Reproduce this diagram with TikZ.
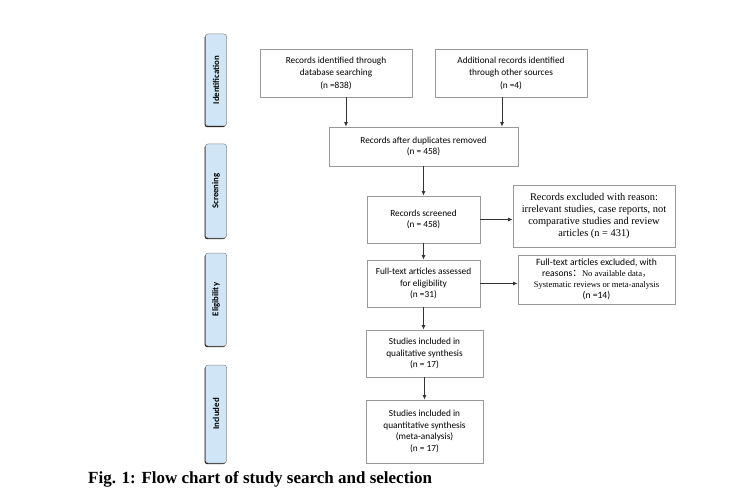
\documentclass[tikz,border=0pt]{standalone}
\usepackage{fontspec}
\setmainfont{Carlito}
\newfontfamily\tms{Liberation Serif}
\newfontfamily\cjk{Noto Sans CJK SC}
\definecolor{sidefill}{RGB}{208,229,245}
\usetikzlibrary{arrows.meta,shadows}
\begin{document}
\begin{tikzpicture}[x=1pt,y=-1pt,
  box/.style={draw=black!40, line width=0.6pt, fill=white, align=center,
    inner sep=2pt, font=\fontsize{9.3}{11.8}\selectfont,
    drop shadow={shadow xshift=1.1pt, shadow yshift=-1.1pt, fill=black!85, opacity=1}},
  tbox/.style={box, font=\tms\fontsize{10.4}{11.7}\selectfont},
  side/.style={draw=black!45, line width=0.5pt, fill=sidefill, rounded corners=2.5pt,
    rotate=90, minimum height=21pt, inner sep=1pt, font=\bfseries\fontsize{8.8}{10}\selectfont,
    drop shadow={shadow xshift=-0.9pt, shadow yshift=-1.1pt, fill=black!90, opacity=1}},
  arr/.style={draw=black!80, line width=1pt, -{Latex[length=4.5pt,width=4pt]}}]
\useasboundingbox (0,0) rectangle (750,492);

% phase labels
\node[side, minimum width=92pt] (sid) at (216,80) {Identification};
\node[side, minimum width=94pt] (ssc) at (216,191) {Screening};
\node[side, minimum width=93pt] (sel) at (216,299.5) {Eligibility};
\node[side, minimum width=98pt] (sin) at (216,414) {Included};

% boxes
\node[box, minimum width=152pt, minimum height=48pt, font=\fontsize{9.3}{12.5}\selectfont] (A) at (336,73)
  {Records identified through\\database searching\\(n =838)};
\node[box, minimum width=152pt, minimum height=48pt, font=\fontsize{9.3}{12.5}\selectfont] (B) at (511,73)
  {Additional records identified\\through other sources\\(n =4)};
\node[box, minimum width=189pt, minimum height=39pt] (C) at (423.5,146.5)
  {Records after duplicates removed\\(n = 458)};
\node[box, minimum width=113pt, minimum height=47pt] (D) at (423.5,219.5)
  {Records screened\\(n = 458)};
\node[tbox, minimum width=162pt, minimum height=62pt] (E) at (594,216)
  {Records excluded with reason:\\irrelevant studies, case reports, not\\comparative studies and review\\articles (n = 431)};
\node[box, minimum width=113pt, minimum height=47pt] (F) at (423.5,283.5)
  {Full-text articles assessed\\for eligibility\\(n =31)};
\node[box, minimum width=157pt, minimum height=49pt, font=\fontsize{9.6}{11}\selectfont] (G) at (596.5,279.5)
  {Full-text articles excluded, with\\reasons{\cjk：}{\tms\fontsize{8.6}{11}\selectfont No available data{\cjk，}}\\{\tms\fontsize{8.6}{11}\selectfont Systematic reviews or meta-analysis}\\(n =14)};
\node[box, minimum width=117pt, minimum height=47pt] (H) at (424.5,353.5)
  {Studies included in\\qualitative synthesis\\(n = 17)};
\node[box, minimum width=117pt, minimum height=63pt] (I) at (424.5,431.5)
  {Studies included in\\quantitative synthesis\\(meta-analysis)\\(n = 17)};

% arrows
\draw[arr] ([xshift=10pt]A.south) -- ([xshift=10pt]A.south |- C.north);
\draw[arr] ([xshift=-9pt]B.south) -- ([xshift=-9pt]B.south |- C.north);
\draw[arr] (C.south) -- (D.north);
\draw[arr] (D.east) -- (D.east -| E.west);
\draw[arr] (D.south) -- (F.north);
\draw[arr] (F.east) -- (F.east -| G.west);
\draw[arr] (F.south) -- (F.south |- H.north);
\draw[arr] (H.south) -- (I.north);

% caption
\node[anchor=west, inner sep=0pt, font=\tms\bfseries\fontsize{17}{19}\selectfont] (cap) at (88,479)
  {Fig. 1: Flow chart of study search and selection};
\end{tikzpicture}
\end{document}
